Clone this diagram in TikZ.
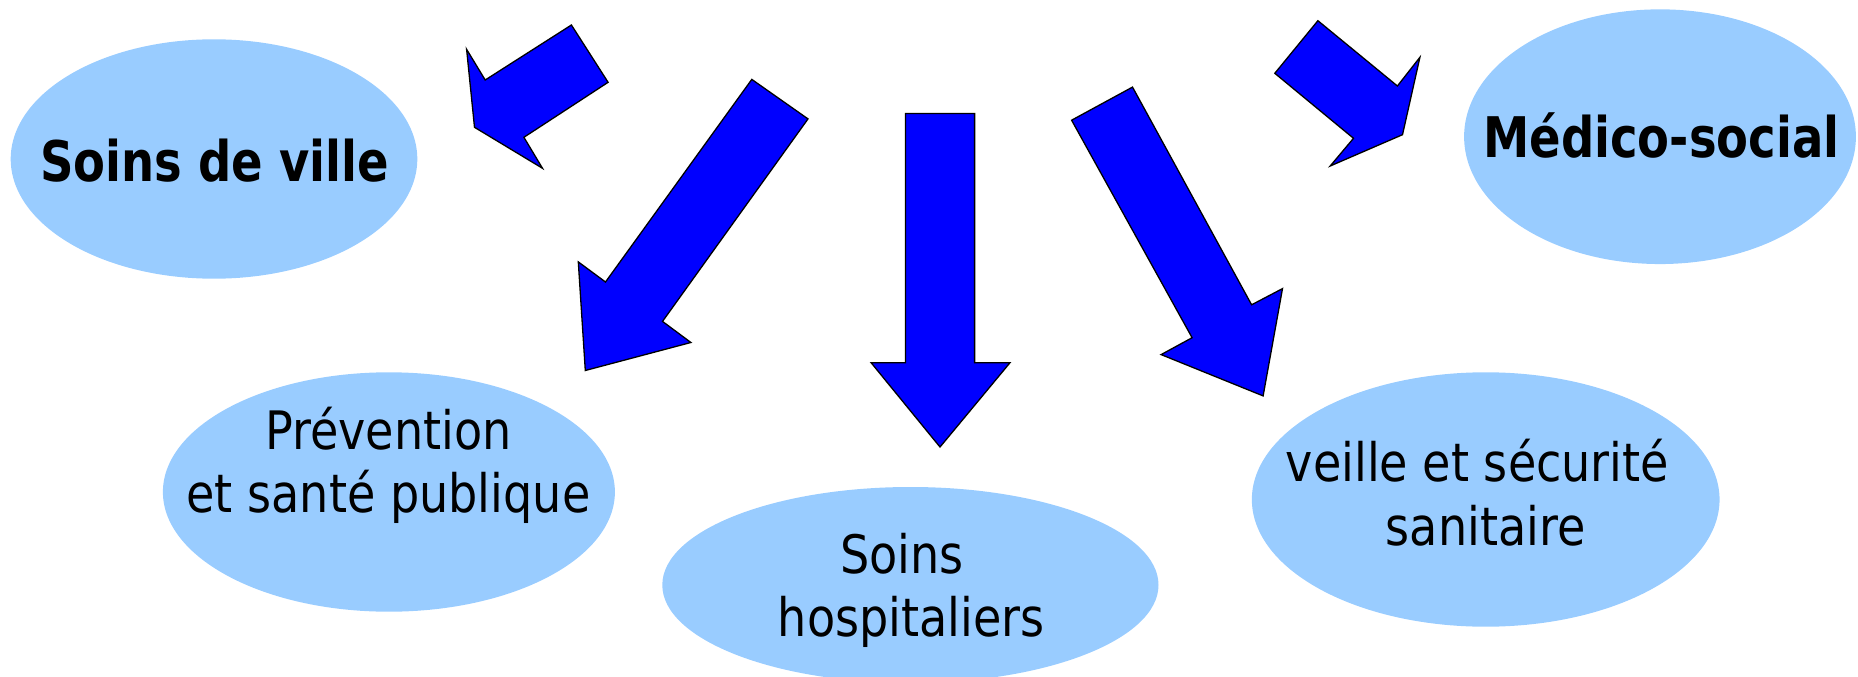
\documentclass[tikz,border=0pt]{standalone}
\usepackage{fontspec}
\usetikzlibrary{shapes.geometric}
\newfontfamily\regf{DejaVu Sans}[FakeStretch=0.87]
\newfontfamily\boldf{DejaVu Sans}[FakeStretch=0.83]
\definecolor{bubblefill}{HTML}{99CCFF}
\definecolor{arrowblue}{HTML}{0000FF}
\begin{document}
\begin{tikzpicture}[x=1pt,y=-1pt,
  bubble/.style={ellipse, fill=bubblefill, draw=none, inner sep=0pt},
  blockarrow/.style={fill=arrowblue, draw=black, line width=1.3pt, line join=miter},
  lbl/.style={inner sep=0pt, anchor=base, font=\regf\fontsize{53}{64}\selectfont},
  blbl/.style={inner sep=0pt, anchor=base, font=\boldf\bfseries\fontsize{56}{67}\selectfont}]
\useasboundingbox (0,0) rectangle (1858,677);
\clip (0,0) rectangle (1858,677);
% bubbles
\node[bubble, minimum width=406.6pt, minimum height=239.4pt] (ville) at (214,159) {};
\node[bubble, minimum width=391.8pt, minimum height=254.7pt] (medico) at (1660,136.7) {};
\node[bubble, minimum width=452pt, minimum height=239.4pt] (prev) at (388.9,492) {};
\node[bubble, minimum width=496.2pt, minimum height=196pt] (hosp) at (910.4,585) {};
\node[bubble, minimum width=467.7pt, minimum height=254.4pt] (veille) at (1485.7,499.5) {};
% labels
\node[blbl] (tville) at (214.5,181.7) {Soins de ville};
\node[blbl] (tmedico) at (1661.5,157.3) {Médico-social};
\node[lbl] (tprev1) at (388.5,449) {Prévention};
\node[lbl] (tprev2) at (388.5,512.7) {et santé publique};
\node[lbl] (thosp1) at (902.1,573.3) {Soins};
\node[lbl] (thosp2) at (911.2,636.7) {hospitaliers};
\node[lbl] (tveil1) at (1477.5,481.7) {veille et sécurité};
\node[lbl] (tveil2) at (1485.6,545.7) {sanitaire};
% block arrows
\draw[blockarrow] (571.4,25) -- (608.1,82.3) -- (523.9,137.3) -- (542.5,168.3)
  -- (474.5,127.3) -- (466.6,49.3) -- (485.2,80) -- cycle;
\draw[blockarrow] (751.8,79.4) -- (808.0,118.9) -- (662.5,321.4) -- (690.9,342.5)
  -- (585.3,370.5) -- (578.3,261.9) -- (605.5,282.0) -- cycle;
\draw[blockarrow] (905.4,113.5) -- (974.6,113.5) -- (974.6,362.7) -- (1010,362.7)
  -- (940,447) -- (871.1,362.7) -- (905.4,362.7) -- cycle;
\draw[blockarrow] (1071.6,120.2) -- (1132.5,87.1) -- (1251.6,304.8) -- (1282.5,288.6)
  -- (1263.1,395.9) -- (1161.1,354.6) -- (1192.1,337.7) -- cycle;
\draw[blockarrow] (1317.9,20.7) -- (1397.4,86) -- (1419.9,57.3) -- (1402.5,134.7)
  -- (1330.2,166) -- (1353.5,138.3) -- (1274.8,73.3) -- cycle;
\end{tikzpicture}
\end{document}
